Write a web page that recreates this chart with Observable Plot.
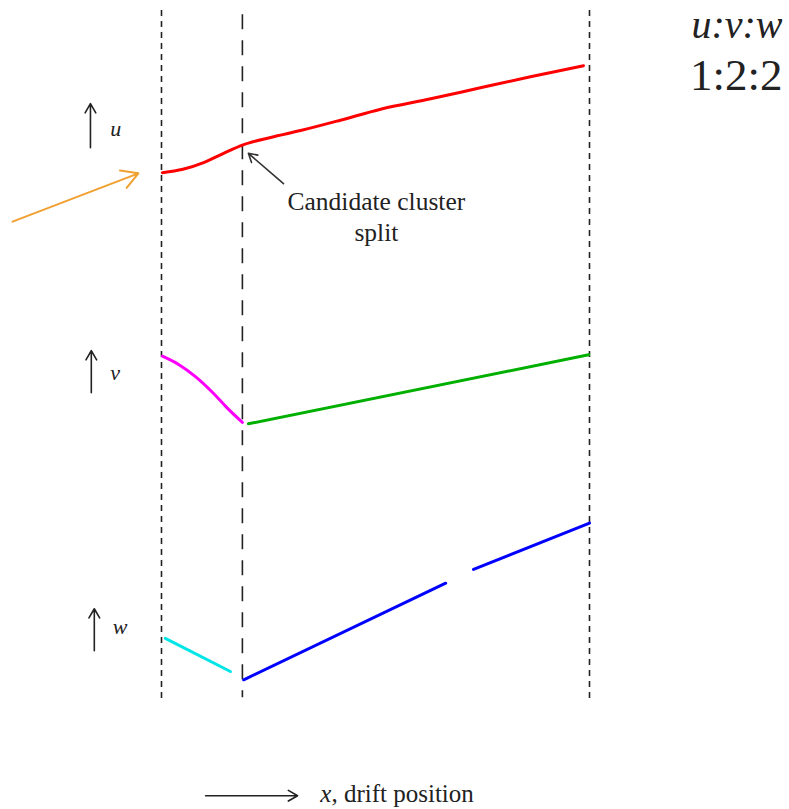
<!DOCTYPE html>
<html><head><meta charset="utf-8">
<script src="https://cdn.jsdelivr.net/npm/d3@7"></script>
<script src="https://cdn.jsdelivr.net/npm/@observablehq/plot@0.6"></script>
<style>body{margin:0;background:#fff} svg text{font-family:"Liberation Serif", serif;}</style>
</head><body><div id="chart"></div>
<script>
// Drift position (x, 0..10) and relative level (y, 0..100)
const uX = [0.02, 0.5, 1.0, 1.45, 1.89, 2.55, 3.25, 4.18, 5.12, 6.29, 7.45, 8.62, 9.86];
const uY = [76.5, 77.0, 78.0, 79.3, 80.5, 81.6, 82.6, 84.1, 85.7, 87.2, 88.8, 90.4, 92.0];

const vMagX = [0.02, 0.4, 0.8, 1.2, 1.55, 1.89];
const vMagY = [49.9, 48.7, 46.9, 44.6, 42.3, 40.3];
const vGreenX = [2.03, 9.98];
const vGreenY = [40.1, 50.1];

const wCyanX = [0.09, 1.61];
const wCyanY = [9.0, 4.2];
const wBlueX = [1.92, 6.64, 6.9, 7.29, 10.0];
const wBlueY = [3.0, 17.0, NaN, 19.0, 25.7];

// Dashed boundaries: drift start, candidate split, drift end
const boundX = [0, 1.89, 10];
const boundTop = [100, 99.4, 100];
const boundBottom = [0.3, 0.4, 0];
const boundDash = ["6,5", "15,11", "6,5"];

// Variable names and their arrows
const varNames = ["u", "v", "w"];
const varArrowX = [-1.66, -1.64, -1.57];
const varArrowY1 = [80.1, 44.6, 7.2];
const varArrowY2 = [86.5, 50.7, 13.3];
const varLabelX = [-1.2, -1.2, -1.14];
const varLabelY = [82.9, 47.5, 10.7];

const ratioLabels = ["u:v:w", "1:2:2"];
const annotation = "Candidate cluster\nsplit";
const xLabel = ", drift position";

const toRows = (xs, ys) => xs.map((x, i) => ({x, y: ys[i]}));
const bounds = boundX.map((x, i) => ({x, y1: boundTop[i], y2: boundBottom[i], dash: boundDash[i]}));
const varRows = varNames.map((n, i) => ({n, ax: varArrowX[i], ay1: varArrowY1[i], ay2: varArrowY2[i], lx: varLabelX[i], ly: varLabelY[i]}));

const font = "'Liberation Serif', serif";

const marks = [
  ...bounds.map(b => Plot.ruleX([b], {x: "x", y1: "y1", y2: "y2", stroke: "#222", strokeWidth: 1.6, strokeDasharray: b.dash})),
  Plot.line(toRows(uX, uY), {x: "x", y: "y", stroke: "#ff0000", strokeWidth: 3, curve: "monotone-x"}),
  Plot.line(toRows(vMagX, vMagY), {x: "x", y: "y", stroke: "#ff00ff", strokeWidth: 3, curve: "monotone-x"}),
  Plot.line(toRows(vGreenX, vGreenY), {x: "x", y: "y", stroke: "#00b000", strokeWidth: 3}),
  Plot.line(toRows(wCyanX, wCyanY), {x: "x", y: "y", stroke: "#00e5e5", strokeWidth: 3}),
  Plot.line(toRows(wBlueX, wBlueY), {x: "x", y: "y", stroke: "#0000ff", strokeWidth: 3}),
  Plot.arrow(varRows, {x1: "ax", x2: "ax", y1: "ay1", y2: "ay2", stroke: "#222", strokeWidth: 1.6, headLength: 10}),
  Plot.text(varRows, {x: "lx", y: "ly", text: "n", fontSize: 22, fontStyle: "italic", fontFamily: font, fill: "#222", textAnchor: "start"}),
  // orange pointer
  Plot.arrow([{x1: -3.48, y1: 69.4, x2: -0.54, y2: 76.4}], {x1: "x1", y1: "y1", x2: "x2", y2: "y2", stroke: "#f0a030", strokeWidth: 2, headLength: 14}),
  // annotation pointer
  Plot.arrow([{x1: 2.85, y1: 74.9, x2: 2.03, y2: 79.3}], {x1: "x1", y1: "y1", x2: "x2", y2: "y2", stroke: "#333", strokeWidth: 1.6, headLength: 9}),
  Plot.text([annotation], {x: 5.02, y: 70.3, text: d => d, fontSize: 25.5, lineHeight: 1.2, fontFamily: font, fill: "#222", textAnchor: "middle"}),
  Plot.text([ratioLabels[0]], {x: 14.51, y: 97.9, text: d => d, fontSize: 40, fontStyle: "italic", fontFamily: font, fill: "#222", textAnchor: "end"}),
  Plot.text([ratioLabels[1]], {x: 14.51, y: 90.6, text: d => d, fontSize: 45, fontFamily: font, fill: "#222", textAnchor: "end"}),
  // x direction arrow and label
  Plot.arrow([{x1: 1.03, x2: 3.18, y: -13.8}], {x1: "x1", x2: "x2", y1: "y", y2: "y", stroke: "#222", strokeWidth: 1.6, headLength: 10}),
  Plot.text(["x"], {x: 3.71, y: -13.5, text: d => d, fontSize: 25, fontStyle: "italic", fontFamily: font, fill: "#222", textAnchor: "start"}),
  Plot.text([xLabel], {x: 3.97, y: -13.5, text: d => d, fontSize: 25, fontFamily: font, fill: "#222", textAnchor: "start"})
];

const chart = Plot.plot({
  width: 789,
  height: 809,
  marginLeft: 161,
  marginRight: 200,
  marginTop: 10,
  marginBottom: 109,
  x: {domain: [0, 10], axis: null},
  y: {domain: [0, 100], axis: null},
  style: {fontFamily: font, background: "white", overflow: "visible"},
  marks
});
document.getElementById("chart").appendChild(chart);
</script></body></html>
